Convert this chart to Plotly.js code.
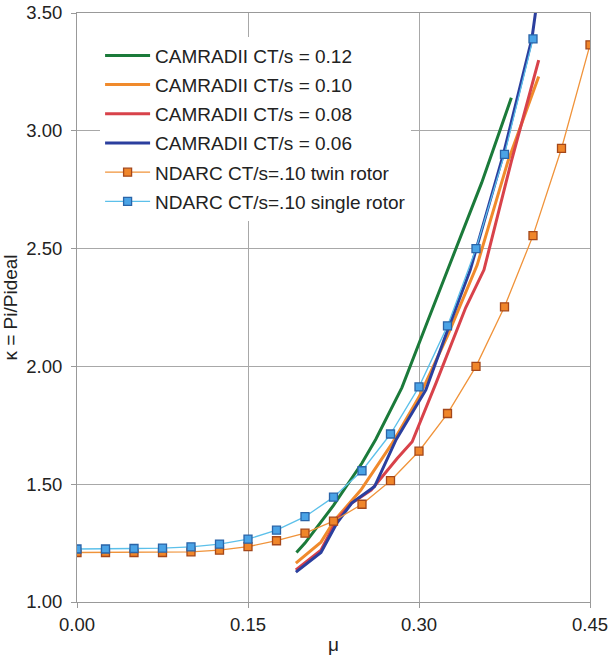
<!DOCTYPE html>
<html>
<head>
<meta charset="utf-8">
<script src="https://cdn.plot.ly/plotly-3.0.1.min.js"></script>
<style>html,body{margin:0;padding:0;background:#fff;}#chart{width:612px;height:659px;}</style>
</head>
<body>
<div id="chart"></div>
<script>
// CAMRADII curves
const cam12_mu = [0.1925, 0.200, 0.225, 0.250, 0.262, 0.285, 0.309, 0.330, 0.355, 0.381];
const cam12_k  = [1.21,   1.25,  1.41,  1.59,  1.69,  1.91,  2.21,  2.47,  2.78,  3.14];

const cam10_mu = [0.192, 0.214, 0.226, 0.249, 0.276, 0.300, 0.325, 0.351, 0.378, 0.405];
const cam10_k  = [1.165, 1.254, 1.347, 1.475, 1.67,  1.87,  2.13,  2.43,  2.87,  3.23];

const cam08_mu = [0.192, 0.214, 0.228, 0.241, 0.258, 0.281, 0.294, 0.315, 0.341, 0.357, 0.381, 0.405];
const cam08_k  = [1.136, 1.22,  1.35,  1.42,  1.475, 1.61,  1.68,  1.93,  2.25,  2.41,  2.87,  3.30];

const cam06_mu = [0.192, 0.214, 0.228, 0.241, 0.261, 0.280, 0.306, 0.324, 0.345, 0.374, 0.399, 0.403];
const cam06_k  = [1.127, 1.21,  1.335, 1.42,  1.49,  1.69,  1.90,  2.14,  2.41,  2.90,  3.39,  3.53];

// NDARC
const nd_mu = [0, 0.025, 0.05, 0.075, 0.1, 0.125, 0.15, 0.175, 0.2, 0.225, 0.25, 0.275, 0.3, 0.325, 0.35, 0.375, 0.4, 0.425, 0.45];
const ndTwin_k = [1.21, 1.21, 1.21, 1.21, 1.213, 1.22, 1.235, 1.26, 1.292, 1.343, 1.415, 1.515, 1.64, 1.80, 2.00, 2.253, 2.555, 2.925, 3.365];
const ndSingle_mu = [0, 0.025, 0.05, 0.075, 0.1, 0.125, 0.15, 0.175, 0.2, 0.225, 0.25, 0.275, 0.3, 0.325, 0.35, 0.375, 0.4];
const ndSingle_k = [1.225, 1.225, 1.227, 1.229, 1.234, 1.246, 1.267, 1.305, 1.362, 1.445, 1.557, 1.713, 1.913, 2.172, 2.50, 2.90, 3.39];

const names = ['CAMRADII CT/s = 0.12', 'CAMRADII CT/s = 0.10', 'CAMRADII CT/s = 0.08', 'CAMRADII CT/s = 0.06',
               'NDARC CT/s=.10 twin rotor', 'NDARC CT/s=.10 single rotor'];

const traces = [
  {x: cam12_mu, y: cam12_k, name: names[0], mode: 'lines', line: {color: '#1b7a3a', width: 3}, legendgroup: 'a'},
  {x: cam10_mu, y: cam10_k, name: names[1], mode: 'lines', line: {color: '#f08a2c', width: 3}, legendgroup: 'b'},
  {x: cam08_mu, y: cam08_k, name: names[2], mode: 'lines', line: {color: '#d8424a', width: 3}, legendgroup: 'c'},
  {x: cam06_mu, y: cam06_k, name: names[3], mode: 'lines', line: {color: '#2b3f9e', width: 3}, legendgroup: 'd'},
  {x: nd_mu, y: ndTwin_k, name: names[4], mode: 'lines+markers', line: {color: '#f0933a', width: 1.3},
   marker: {symbol: 'square', size: 8, color: '#f0862a', line: {color: '#a4471a', width: 1.3}}, legendgroup: 'e'},
  {x: ndSingle_mu, y: ndSingle_k, name: names[5], mode: 'lines+markers', line: {color: '#5cc0ea', width: 1.3},
   marker: {symbol: 'square', size: 8, color: '#4aa3e6', line: {color: '#2a64a8', width: 1.3}}, legendgroup: 'f'}
];

const font = 'Liberation Sans, Arial, sans-serif';
const layout = {
  width: 612, height: 659,
  margin: {l: 77, r: 22, t: 13, b: 57, pad: 0},
  paper_bgcolor: '#fff', plot_bgcolor: '#fff',
  font: {family: font, size: 18.5, color: '#222'},
  showlegend: true,
  legend: {
    x: 0.045, y: 0.96, xanchor: 'left', yanchor: 'top',
    bgcolor: '#fff', borderwidth: 0,
    font: {family: font, size: 19, color: '#222'},
    traceorder: 'grouped', tracegroupgap: 1.5,
    itemwidth: 45
  },
  xaxis: {
    range: [0, 0.45], dtick: 0.15, tick0: 0, tickformat: '.2f',
    showgrid: true, gridcolor: '#a8a8a8', gridwidth: 1,
    showline: true, linecolor: '#999', linewidth: 1, mirror: true,
    ticks: 'outside', ticklen: 5, tickcolor: '#999',
    ticklabelstandoff: 1,
    zeroline: false,
    title: {text: 'μ', font: {family: font, size: 19, color: '#222'}, standoff: 3}
  },
  yaxis: {
    range: [1, 3.5], dtick: 0.5, tick0: 1, tickformat: '.2f',
    showgrid: true, gridcolor: '#a8a8a8', gridwidth: 1,
    showline: true, linecolor: '#999', linewidth: 1, mirror: true,
    ticks: 'outside', ticklen: 5, tickcolor: '#999',
    ticklabelstandoff: 5,
    zeroline: false,
    title: {text: 'κ = Pi/Pideal', font: {family: font, size: 19, color: '#222'}, standoff: 4}
  }
};

Plotly.newPlot('chart', traces, layout, {displayModeBar: false, staticPlot: true});
</script>
</body>
</html>
